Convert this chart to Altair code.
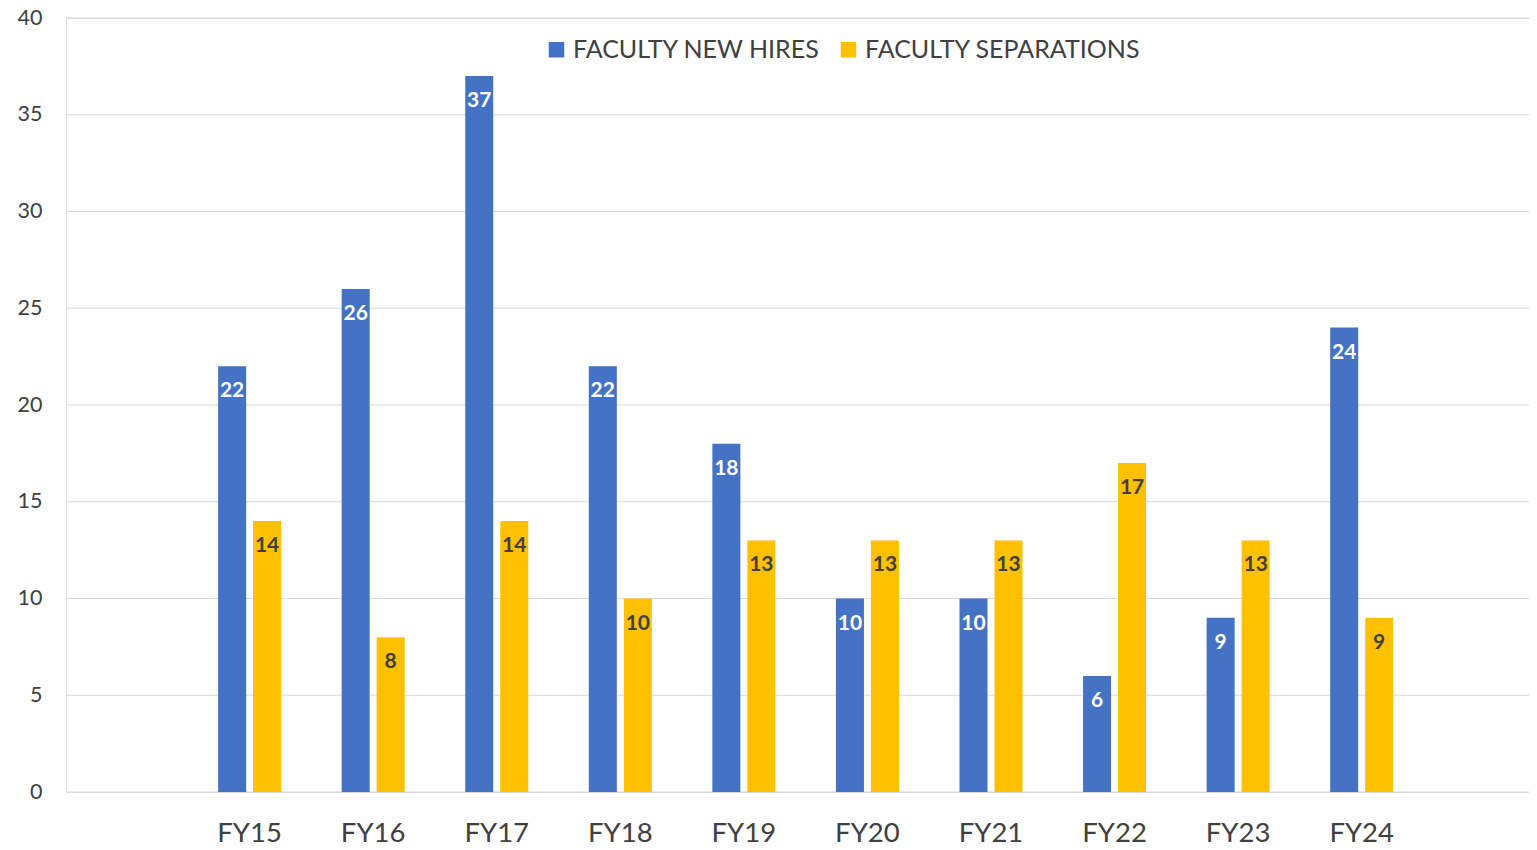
import altair as alt
import pandas as pd

years = ["FY15", "FY16", "FY17", "FY18", "FY19", "FY20", "FY21", "FY22", "FY23", "FY24"]
series_names = ["FACULTY NEW HIRES", "FACULTY SEPARATIONS"]
new_hires = [22, 26, 37, 22, 18, 10, 10, 6, 9, 24]
separations = [14, 8, 14, 10, 13, 13, 13, 17, 13, 9]
y_ticks = [0, 5, 10, 15, 20, 25, 30, 35, 40]
colors = ["#4472C4", "#FFC000"]

# empty category slots on either side, as in the original layout
x_domain = ["_pre"] + years + ["_post"]

rows = []
for i, y in enumerate(years):
    rows.append({"year": y, "series": series_names[0], "value": new_hires[i]})
    rows.append({"year": y, "series": series_names[1], "value": separations[i]})
df = pd.DataFrame(rows)
grid_df = pd.DataFrame({"value": y_ticks})

FONT = "Lato"
W, H = 1463, 774

x_enc = alt.X(
    "year:N",
    scale=alt.Scale(domain=x_domain, paddingInner=0.49, paddingOuter=0.165, align=0.70, round=False),
    axis=alt.Axis(
        title=None, labelAngle=0, domain=False, ticks=False, grid=False, labelPadding=27,
        labelFontSize=27.5, labelFont=FONT, labelColor="#404040",
        labelExpr="slice(datum.label, 0, 1) == '_' ? '' : datum.label",
    ),
)
xo_enc = alt.XOffset(
    "series:N", sort=series_names,
    scale=alt.Scale(domain=series_names, paddingInner=0.2, paddingOuter=0, round=False),
)
y_enc = alt.Y(
    "value:Q",
    scale=alt.Scale(domain=[0, 40], nice=False),
    axis=alt.Axis(
        title=None, values=y_ticks, domain=False, ticks=False, grid=False, labelPadding=24,
        labelFontSize=21.5, labelFont=FONT, labelColor="#404040",
    ),
)

grid = alt.Chart(grid_df).mark_rule(color="#d9d9d9", strokeWidth=1).encode(
    y=y_enc,
    x=alt.value(0),
    x2=alt.value(W),
)

bars = alt.Chart(df).mark_bar().encode(
    x=x_enc,
    xOffset=xo_enc,
    y=y_enc,
    color=alt.Color(
        "series:N",
        scale=alt.Scale(domain=series_names, range=colors),
        legend=alt.Legend(
            title=None, orient="none", legendX=478, legendY=19, direction="horizontal",
            symbolType="square", symbolSize=240, symbolStrokeWidth=0,
            labelFont=FONT, labelFontSize=25, labelColor="#404040", labelLimit=500,
            labelOffset=4, columnPadding=15,
        ),
    ),
)

labels = alt.Chart(df).mark_text(
    baseline="middle", align="center", dy=25, font=FONT, fontSize=21, fontWeight="bold",
).encode(
    x=x_enc,
    xOffset=xo_enc,
    y=y_enc,
    text=alt.Text("value:Q"),
    color=alt.condition(
        alt.datum.series == series_names[0], alt.value("white"), alt.value("#404040")
    ),
)

chart = (
    alt.layer(grid, bars, labels)
    .properties(
        width=W, height=H,
        autosize=alt.AutoSizeParams(type="none"),
        padding={"left": 58, "top": 10, "right": 0, "bottom": 55},
    )
    .configure_view(stroke="transparent", strokeWidth=0)
    .configure_axis(domain=False, ticks=False)
    .configure_axisX(grid=False)
    .configure(background="white")
)

chart.save("out.html", embed_options={"renderer": "svg", "actions": False})
